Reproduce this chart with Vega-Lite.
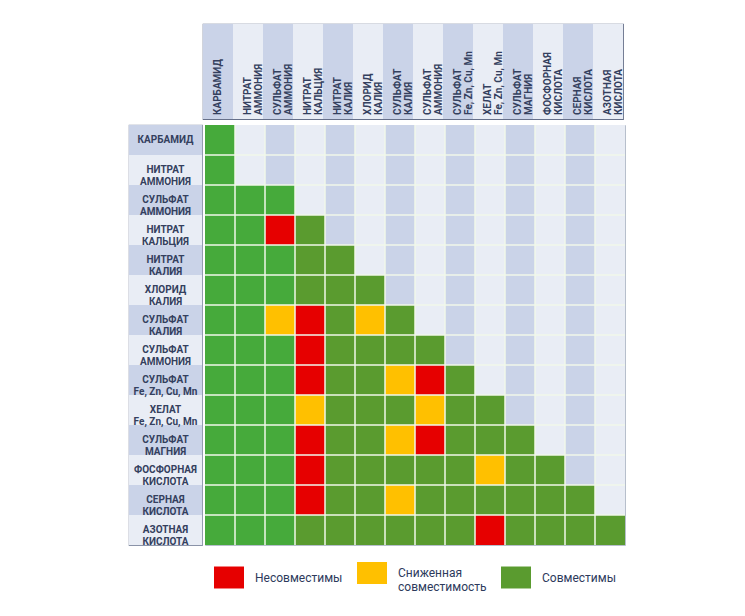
{
  "$schema": "https://vega.github.io/schema/vega-lite/v6.json",
  "background": "#ffffff",
  "padding": {"left": 128, "top": 23, "right": 5, "bottom": 5},
  "spacing": 3,
  "config": {
    "view": {"stroke": null},
    "font": "Roboto"
  },
  "datasets": {
    "labels": [
      {"i": 0, "name": "КАРБАМИД", "shade": "dark"},
      {"i": 1, "name": "НИТРАТ\nАММОНИЯ", "shade": "light"},
      {"i": 2, "name": "СУЛЬФАТ\nАММОНИЯ", "shade": "dark"},
      {"i": 3, "name": "НИТРАТ\nКАЛЬЦИЯ", "shade": "light"},
      {"i": 4, "name": "НИТРАТ\nКАЛИЯ", "shade": "dark"},
      {"i": 5, "name": "ХЛОРИД\nКАЛИЯ", "shade": "light"},
      {"i": 6, "name": "СУЛЬФАТ\nКАЛИЯ", "shade": "dark"},
      {"i": 7, "name": "СУЛЬФАТ\nАММОНИЯ", "shade": "light"},
      {"i": 8, "name": "СУЛЬФАТ\nFe, Zn, Cu, Mn", "shade": "dark"},
      {"i": 9, "name": "ХЕЛАТ\nFe, Zn, Cu, Mn", "shade": "light"},
      {"i": 10, "name": "СУЛЬФАТ\nМАГНИЯ", "shade": "dark"},
      {"i": 11, "name": "ФОСФОРНАЯ\nКИСЛОТА", "shade": "light"},
      {"i": 12, "name": "СЕРНАЯ\nКИСЛОТА", "shade": "dark"},
      {"i": 13, "name": "АЗОТНАЯ\nКИСЛОТА", "shade": "light"}
    ],
    "cells": [
      {"r": 0, "c": 0, "s": "G"},
      {"r": 1, "c": 0, "s": "G"},
      {"r": 2, "c": 0, "s": "G"}, {"r": 2, "c": 1, "s": "G"}, {"r": 2, "c": 2, "s": "G"},
      {"r": 3, "c": 0, "s": "G"}, {"r": 3, "c": 1, "s": "G"}, {"r": 3, "c": 2, "s": "R"}, {"r": 3, "c": 3, "s": "G"},
      {"r": 4, "c": 0, "s": "G"}, {"r": 4, "c": 1, "s": "G"}, {"r": 4, "c": 2, "s": "G"}, {"r": 4, "c": 3, "s": "G"}, {"r": 4, "c": 4, "s": "G"},
      {"r": 5, "c": 0, "s": "G"}, {"r": 5, "c": 1, "s": "G"}, {"r": 5, "c": 2, "s": "G"}, {"r": 5, "c": 3, "s": "G"}, {"r": 5, "c": 4, "s": "G"}, {"r": 5, "c": 5, "s": "G"},
      {"r": 6, "c": 0, "s": "G"}, {"r": 6, "c": 1, "s": "G"}, {"r": 6, "c": 2, "s": "Y"}, {"r": 6, "c": 3, "s": "R"}, {"r": 6, "c": 4, "s": "G"}, {"r": 6, "c": 5, "s": "Y"}, {"r": 6, "c": 6, "s": "G"},
      {"r": 7, "c": 0, "s": "G"}, {"r": 7, "c": 1, "s": "G"}, {"r": 7, "c": 2, "s": "G"}, {"r": 7, "c": 3, "s": "R"}, {"r": 7, "c": 4, "s": "G"}, {"r": 7, "c": 5, "s": "G"}, {"r": 7, "c": 6, "s": "G"}, {"r": 7, "c": 7, "s": "G"},
      {"r": 8, "c": 0, "s": "G"}, {"r": 8, "c": 1, "s": "G"}, {"r": 8, "c": 2, "s": "G"}, {"r": 8, "c": 3, "s": "R"}, {"r": 8, "c": 4, "s": "G"}, {"r": 8, "c": 5, "s": "G"}, {"r": 8, "c": 6, "s": "Y"}, {"r": 8, "c": 7, "s": "R"}, {"r": 8, "c": 8, "s": "G"},
      {"r": 9, "c": 0, "s": "G"}, {"r": 9, "c": 1, "s": "G"}, {"r": 9, "c": 2, "s": "G"}, {"r": 9, "c": 3, "s": "Y"}, {"r": 9, "c": 4, "s": "G"}, {"r": 9, "c": 5, "s": "G"}, {"r": 9, "c": 6, "s": "G"}, {"r": 9, "c": 7, "s": "Y"}, {"r": 9, "c": 8, "s": "G"}, {"r": 9, "c": 9, "s": "G"},
      {"r": 10, "c": 0, "s": "G"}, {"r": 10, "c": 1, "s": "G"}, {"r": 10, "c": 2, "s": "G"}, {"r": 10, "c": 3, "s": "R"}, {"r": 10, "c": 4, "s": "G"}, {"r": 10, "c": 5, "s": "G"}, {"r": 10, "c": 6, "s": "Y"}, {"r": 10, "c": 7, "s": "R"}, {"r": 10, "c": 8, "s": "G"}, {"r": 10, "c": 9, "s": "G"}, {"r": 10, "c": 10, "s": "G"},
      {"r": 11, "c": 0, "s": "G"}, {"r": 11, "c": 1, "s": "G"}, {"r": 11, "c": 2, "s": "G"}, {"r": 11, "c": 3, "s": "R"}, {"r": 11, "c": 4, "s": "G"}, {"r": 11, "c": 5, "s": "G"}, {"r": 11, "c": 6, "s": "G"}, {"r": 11, "c": 7, "s": "G"}, {"r": 11, "c": 8, "s": "G"}, {"r": 11, "c": 9, "s": "Y"}, {"r": 11, "c": 10, "s": "G"}, {"r": 11, "c": 11, "s": "G"},
      {"r": 12, "c": 0, "s": "G"}, {"r": 12, "c": 1, "s": "G"}, {"r": 12, "c": 2, "s": "G"}, {"r": 12, "c": 3, "s": "R"}, {"r": 12, "c": 4, "s": "G"}, {"r": 12, "c": 5, "s": "G"}, {"r": 12, "c": 6, "s": "Y"}, {"r": 12, "c": 7, "s": "G"}, {"r": 12, "c": 8, "s": "G"}, {"r": 12, "c": 9, "s": "G"}, {"r": 12, "c": 10, "s": "G"}, {"r": 12, "c": 11, "s": "G"}, {"r": 12, "c": 12, "s": "G"},
      {"r": 13, "c": 0, "s": "G"}, {"r": 13, "c": 1, "s": "G"}, {"r": 13, "c": 2, "s": "G"}, {"r": 13, "c": 3, "s": "G"}, {"r": 13, "c": 4, "s": "G"}, {"r": 13, "c": 5, "s": "G"}, {"r": 13, "c": 6, "s": "G"}, {"r": 13, "c": 7, "s": "G"}, {"r": 13, "c": 8, "s": "G"}, {"r": 13, "c": 9, "s": "R"}, {"r": 13, "c": 10, "s": "G"}, {"r": 13, "c": 11, "s": "G"}, {"r": 13, "c": 12, "s": "G"}, {"r": 13, "c": 13, "s": "G"}
    ]
  },
  "vconcat": [
    {
      "spacing": 0,
      "hconcat": [
        {
          "width": 73, "height": 95,
          "data": {"name": "labels"},
          "mark": {"type": "rect", "opacity": 0},
          "encoding": {}
        },
        {
          "width": 420, "height": 95,
          "data": {"name": "labels"},
          "view": {"stroke": "#66708a", "strokeWidth": 1.2},
          "layer": [
            {
              "mark": {"type": "rect"},
              "encoding": {
                "x": {"field": "i", "type": "ordinal", "axis": null, "scale": {"type": "band", "paddingInner": 0, "paddingOuter": 0}},
                "fill": {"field": "shade", "type": "nominal", "legend": null, "scale": {"domain": ["dark", "light"], "range": ["#cad3e8", "#e9edf5"]}}
              }
            },
            {
              "mark": {"type": "text", "angle": 270, "align": "left", "baseline": "middle", "lineBreak": "\n", "lineHeight": 11, "fontSize": 10, "fontWeight": "bold", "color": "#34405e", "yOffset": -4},
              "encoding": {
                "x": {"field": "i", "type": "ordinal", "axis": null, "scale": {"type": "band", "paddingInner": 0, "paddingOuter": 0}},
                "y": {"datum": 0, "type": "quantitative", "axis": null, "scale": {"domain": [0, 1]}},
                "text": {"field": "name", "type": "nominal"}
              }
            }
          ]
        }
      ]
    },
    {
      "spacing": 0,
      "hconcat": [
        {
          "width": 73, "height": 420,
          "data": {"name": "labels"},
          "view": {"stroke": "#8a93a8", "strokeWidth": 1.2},
          "layer": [
            {
              "mark": {"type": "rect"},
              "encoding": {
                "y": {"field": "i", "type": "ordinal", "axis": null, "scale": {"type": "band", "paddingInner": 0, "paddingOuter": 0}},
                "fill": {"field": "shade", "type": "nominal", "legend": null, "scale": {"domain": ["dark", "light"], "range": ["#cad3e8", "#e9edf5"]}}
              }
            },
            {
              "mark": {"type": "text", "align": "center", "baseline": "middle", "lineBreak": "\n", "lineHeight": 12, "fontSize": 10, "fontWeight": "bold", "color": "#34405e"},
              "encoding": {
                "y": {"field": "i", "type": "ordinal", "axis": null, "scale": {"type": "band", "paddingInner": 0, "paddingOuter": 0}},
                "text": {"field": "name", "type": "nominal"}
              }
            }
          ]
        },
        {
          "width": 420, "height": 420,
          "view": {"stroke": "#b7bfcc", "strokeWidth": 1},
          "layer": [
            {
              "data": {"name": "labels"},
              "mark": {"type": "rect"},
              "encoding": {
                "x": {"field": "i", "type": "ordinal", "axis": null, "scale": {"type": "band", "paddingInner": 0, "paddingOuter": 0}},
                "fill": {"field": "shade", "type": "nominal", "legend": null, "scale": {"domain": ["dark", "light"], "range": ["#cad3e8", "#e9edf5"]}}
              }
            },
            {
              "data": {"name": "cells"},
              "mark": {"type": "rect"},
              "encoding": {
                "x": {"field": "c", "type": "ordinal", "axis": null, "scale": {"type": "band", "paddingInner": 0, "paddingOuter": 0}},
                "y": {"field": "r", "type": "ordinal", "axis": null, "scale": {"type": "band", "paddingInner": 0, "paddingOuter": 0}},
                "color": {
                  "field": "s", "type": "nominal",
                  "scale": {"domain": ["R", "Y", "G"], "range": ["#e60000", "#ffc000", "#5a9b2f"]},
                  "legend": {
                    "orient": "none", "legendX": 85, "legendY": 534,
                    "direction": "horizontal", "title": null,
                    "symbolType": "M-1,-0.733H1V0.733H-1Z", "symbolSize": 900,
                    "symbolStrokeWidth": 0, "symbolOpacity": 1,
                    "labelFontSize": 12, "labelColor": "#2d3a5c", "labelOffset": 11,
                    "columnPadding": 14, "labelLimit": 200,
                    "labelExpr": "datum.value == 'R' ? 'Несовместимы' : datum.value == 'Y' ? ['Сниженная', 'совместимость'] : 'Совместимы'"
                  }
                }
              }
            },
            {
              "data": {"name": "cells"},
              "transform": [{"filter": "datum.s == 'G' && datum.c < 3"}],
              "mark": {"type": "rect", "color": "#46aa3b"},
              "encoding": {
                "x": {"field": "c", "type": "ordinal", "axis": null},
                "y": {"field": "r", "type": "ordinal", "axis": null}
              }
            },
            {
              "data": {"name": "labels"},
              "transform": [{"filter": "datum.i > 0"}],
              "mark": {"type": "rule", "color": "#f1f7ea", "strokeWidth": 1.5},
              "encoding": {
                "x": {"field": "i", "type": "ordinal", "axis": null, "bandPosition": 0}
              }
            },
            {
              "data": {"name": "labels"},
              "transform": [{"filter": "datum.i > 0"}],
              "mark": {"type": "rule", "color": "#f1f7ea", "strokeWidth": 1.5},
              "encoding": {
                "y": {"field": "i", "type": "ordinal", "axis": null, "bandPosition": 0}
              }
            }
          ]
        }
      ]
    }
  ]
}
